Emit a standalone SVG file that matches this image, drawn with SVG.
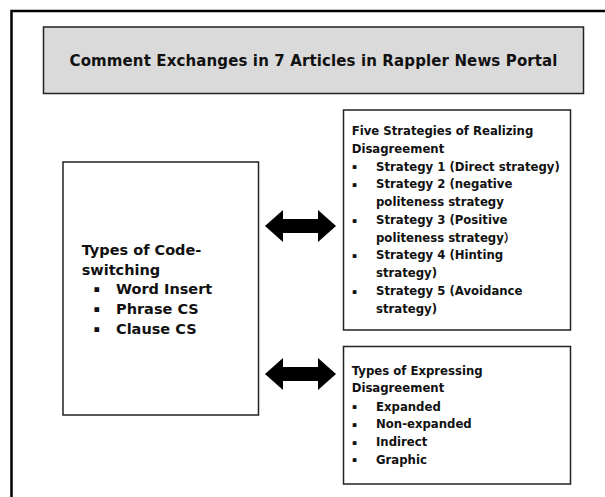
<svg xmlns="http://www.w3.org/2000/svg" width="605" height="497" viewBox="0 0 605 497">
<style>
text{font-family:"DejaVu Sans","Liberation Sans","Noto Sans CJK SC",sans-serif;font-weight:bold;fill:#111;}
.box{fill:#fff;stroke:#222;stroke-width:1.5;}
.title{font-size:15px;}
.r{font-size:11.7px;}
.l{font-size:14.5px;}
.rb{font-size:7.5px;text-anchor:middle;}
.lb{font-size:9.5px;text-anchor:middle;}
.arrow{fill:#000;stroke:none;}
</style>
<rect x="0" y="0" width="605" height="497" fill="#fff"/>
<rect x="11.5" y="11" width="610" height="510" fill="none" stroke="#000" stroke-width="2.5"/>

<g id="title">
<rect x="43.5" y="27" width="540" height="66.5" fill="#dadada" stroke="#222" stroke-width="1.5"/>
<text class="title" x="313.5" y="66" text-anchor="middle" textLength="488">Comment Exchanges in 7 Articles in Rappler News Portal</text>
</g>

<g id="codeswitching">
<rect class="box" x="63" y="162" width="195.5" height="253"/>
<text class="l" x="81.7" y="255">Types of Code-</text>
<text class="l" x="81.7" y="274.5">switching</text>
<text class="lb" x="96.7" y="292">▪</text>
<text class="l" x="116" y="294">Word Insert</text>
<text class="lb" x="96.7" y="312">▪</text>
<text class="l" x="116" y="314">Phrase CS</text>
<text class="lb" x="96.7" y="331.5">▪</text>
<text class="l" x="116" y="333.5">Clause CS</text>
</g>

<g id="strategies">
<rect class="box" x="343.5" y="110" width="227" height="220"/>
<text class="r" x="351.7" y="135">Five Strategies of Realizing</text>
<text class="r" x="351.7" y="152.7">Disagreement</text>
<text class="rb" x="354.5" y="169.3">▪</text>
<text class="r" x="376" y="170.5">Strategy 1 (Direct strategy)</text>
<text class="rb" x="354.5" y="187">▪</text>
<text class="r" x="376" y="188.2">Strategy 2 (negative</text>
<text class="r" x="376" y="206">politeness strategy</text>
<text class="rb" x="354.5" y="222.5">▪</text>
<text class="r" x="376" y="223.7">Strategy 3 (Positive</text>
<text class="r" x="376" y="241.5">politeness strategy）</text>
<text class="rb" x="354.5" y="258">▪</text>
<text class="r" x="376" y="259.2">Strategy 4 (Hinting</text>
<text class="r" x="376" y="277">strategy)</text>
<text class="rb" x="354.5" y="293.5">▪</text>
<text class="r" x="376" y="294.7">Strategy 5 (Avoidance</text>
<text class="r" x="376" y="312.5">strategy)</text>
</g>

<g id="expressing">
<rect class="box" x="343.5" y="346.5" width="227" height="137.5"/>
<text class="r" x="351.7" y="374.5">Types of Expressing</text>
<text class="r" x="351.7" y="392.3">Disagreement</text>
<text class="rb" x="354.5" y="409.3">▪</text>
<text class="r" x="376" y="410.5">Expanded</text>
<text class="rb" x="354.5" y="427.1">▪</text>
<text class="r" x="376" y="428.3">Non-expanded</text>
<text class="rb" x="354.5" y="444.8">▪</text>
<text class="r" x="376" y="446">Indirect</text>
<text class="rb" x="354.5" y="462.3">▪</text>
<text class="r" x="376" y="463.5">Graphic</text>
</g>

<g id="connectors">
<polygon class="arrow" points="265,226 283,210 283,219 318,219 318,210 336,226 318,242 318,233 283,233 283,242"/>
<polygon class="arrow" points="265,374 283,358 283,367 318,367 318,358 336,374 318,390 318,381 283,381 283,390"/>
</g>
</svg>
